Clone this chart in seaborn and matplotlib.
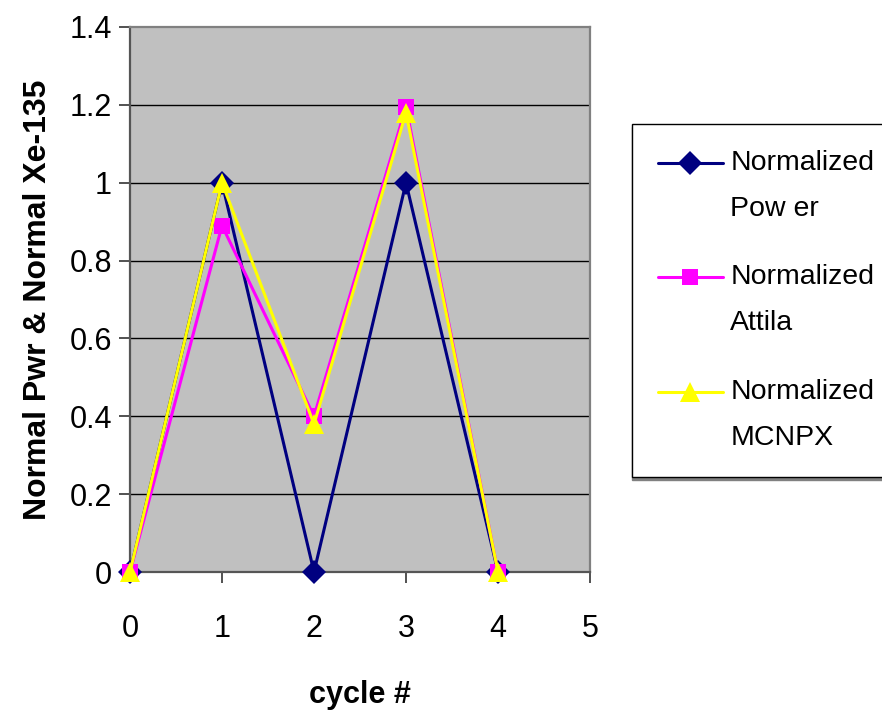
import matplotlib
matplotlib.use("Agg")
import matplotlib.pyplot as plt
import seaborn as sns
import pandas as pd
import numpy as np

cycles = [0, 1, 2, 3, 4]
power = [0.0, 1.0, 0.0, 1.0, 0.0]
attila = [0.0, 0.89, 0.40, 1.195, 0.0]
mcnpx = [0.0, 1.0, 0.38, 1.18, 0.0]
series_names = ["Normalized\nPow er", "Normalized\nAttila", "Normalized\nMCNPX"]
y_ticks = [0, 0.2, 0.4, 0.6, 0.8, 1, 1.2, 1.4]
y_tick_labels = ["0", "0.2", "0.4", "0.6", "0.8", "1", "1.2", "1.4"]
x_ticks = [0, 1, 2, 3, 4, 5]

sns.set_theme(style="white")
plt.rcParams["font.family"] = ["Liberation Sans", "DejaVu Sans"]
for key in ["text.color", "axes.labelcolor", "xtick.color", "ytick.color"]:
    plt.rcParams[key] = "black"

df = pd.DataFrame({
    "cycle": cycles * 3,
    "value": power + attila + mcnpx,
    "series": [series_names[0]] * 5 + [series_names[1]] * 5 + [series_names[2]] * 5,
})

palette = {series_names[0]: "#000080", series_names[1]: "#FF00FF", series_names[2]: "#FFFF00"}
markers = {series_names[0]: "D", series_names[1]: "s", series_names[2]: "^"}
msize = {series_names[0]: 12, series_names[1]: 11.5, series_names[2]: 15}

fig = plt.figure(figsize=(8.82, 7.24), dpi=100)
ax = fig.add_axes([130 / 882, 1 - 572 / 724, 460 / 882, 545 / 724])
ax.set_facecolor("#C0C0C0")

for name in series_names:
    sub = df[df["series"] == name]
    sns.lineplot(data=sub, x="cycle", y="value", ax=ax, color=palette[name],
                 marker=markers[name], markersize=msize[name], markeredgewidth=0,
                 linewidth=2.2, label=name, clip_on=False, zorder=3)

ax.set_xlim(0, 5)
ax.set_ylim(0, 1.4)
ax.set_yticks(y_ticks)
ax.set_yticklabels(y_tick_labels)
ax.set_xticks(x_ticks)
ax.set_xticklabels([str(t) for t in x_ticks])
ax.tick_params(axis="both", labelsize=22, direction="out", length=8, width=1.2,
               color="#333333", left=True, bottom=True)
ax.tick_params(axis="y", pad=5)
ax.tick_params(axis="x", pad=22)
for y in y_ticks[1:-1]:
    ax.axhline(y, color="black", linewidth=1.0, zorder=1)

for side in ["left", "bottom"]:
    ax.spines[side].set_color("#555555")
    ax.spines[side].set_linewidth(1.6)
for side in ["top", "right"]:
    ax.spines[side].set_color("#808080")
    ax.spines[side].set_linewidth(1.6)

ax.set_xlabel("cycle #", fontsize=22, fontweight="bold", labelpad=26)
ax.set_ylabel("Normal Pwr & Normal Xe-135", fontsize=23, fontweight="bold", labelpad=12)

handles, labels = ax.get_legend_handles_labels()
if ax.legend_:
    ax.legend_.remove()
leg = fig.legend(handles, labels, loc="upper left",
                 bbox_to_anchor=(632 / 882, 1 - 124 / 724, 0.32, 0.0), mode="expand",
                 frameon=True, fancybox=False,
                 shadow={"color": "#808080", "alpha": 1.0, "ox": 0, "oy": -2.5},
                 fontsize=20.5, handlelength=2.3, handletextpad=0.25, labelspacing=1.5,
                 borderpad=0.9, borderaxespad=0)
leg.get_frame().set_edgecolor("black")
leg.get_frame().set_linewidth(1.0)
for t in leg.get_texts():
    t.set_linespacing(2.0)
# line handles sit level with the first text line of each entry
for h in leg.legend_handles:
    h.set_ydata(np.asarray(h.get_ydata()) + 16.5)

fig.savefig("out.png", dpi=100, facecolor="white")
